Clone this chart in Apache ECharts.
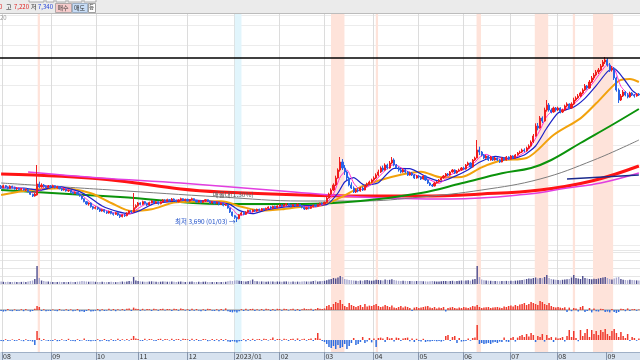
<!DOCTYPE html>
<html><head><meta charset="utf-8">
<script src="https://cdn.jsdelivr.net/npm/echarts@6/dist/echarts.min.js"></script>
<style>html,body{margin:0;padding:0;background:#fff;}#c{width:640px;height:360px;}</style>
</head><body><div id="c"></div>
<script>
// ---- months / categories ----
const monthKeys = ['2022-08','2022-09','2022-10','2022-11','2022-12','2023-01','2023-02','2023-03','2023-04','2023-05','2023-06','2023-07','2023-08','2023-09'];
const monthLabels = ['08','09','10','11','12','2023/01','02','03','04','05','06','07','08','09'];
const monthDays = [22,20,19,22,21,20,20,22,20,20,21,21,22,15];

// ---- daily candles [open, close, low, high] ----
const c2208 = [[4760,4720,4680,4800],[4720,4780,4700,4810],[4780,4740,4710,4800],[4740,4700,4660,4760],[4700,4760,4690,4790],[4760,4730,4700,4780],[4730,4680,4660,4750],[4680,4700,4650,4730],[4700,4660,4640,4720],[4660,4690,4640,4710],[4690,4650,4630,4700],[4650,4670,4620,4690],[4670,4600,4580,4680],[4600,4520,4500,4610],[4520,4470,4440,4540],[4470,4530,4450,4560],[4500,4830,4480,5400],[4830,4740,4700,4900],[4740,4800,4720,4850],[4800,4760,4730,4830],[4760,4720,4690,4790],[4720,4770,4700,4800]];
const c2209 = [[4770,4740,4700,4800],[4740,4780,4720,4810],[4780,4720,4700,4790],[4720,4750,4690,4770],[4750,4690,4670,4760],[4690,4650,4620,4710],[4650,4680,4630,4700],[4680,4620,4600,4690],[4620,4640,4590,4660],[4640,4580,4560,4650],[4580,4550,4520,4600],[4550,4580,4530,4600],[4580,4520,4500,4590],[4520,4470,4450,4540],[4470,4390,4360,4480],[4390,4300,4280,4400],[4300,4230,4200,4320],[4230,4260,4180,4280],[4260,4150,4120,4270],[4150,4100,4060,4170]];
const c2210 = [[4100,4130,4070,4160],[4130,4080,4050,4150],[4080,4020,3990,4100],[4020,4060,4000,4080],[4060,4000,3970,4070],[4000,3960,3930,4020],[3960,4010,3940,4030],[4010,3950,3920,4020],[3950,3920,3880,3970],[3920,3970,3900,3990],[3970,3900,3870,3980],[3900,3850,3810,3920],[3850,3900,3830,3920],[3900,3880,3840,3930],[3880,3960,3860,3980],[3960,4020,3940,4040],[4020,3990,3960,4050],[3990,4120,3980,4560],[4120,4180,4090,4220]];
const c2211 = [[4180,4260,4150,4290],[4260,4220,4190,4280],[4220,4300,4200,4330],[4300,4250,4220,4320],[4250,4200,4170,4270],[4200,4270,4190,4300],[4270,4320,4250,4350],[4320,4260,4240,4340],[4260,4300,4230,4320],[4300,4240,4210,4310],[4240,4290,4220,4310],[4290,4350,4270,4380],[4350,4310,4290,4370],[4310,4360,4290,4390],[4360,4330,4300,4380],[4330,4380,4310,4410],[4380,4340,4310,4400],[4340,4300,4280,4360],[4300,4350,4280,4370],[4350,4390,4330,4420],[4390,4340,4320,4400],[4340,4370,4310,4390]];
const c2212 = [[4370,4320,4300,4390],[4320,4360,4300,4380],[4360,4390,4340,4420],[4390,4340,4320,4400],[4340,4290,4270,4350],[4290,4330,4270,4350],[4330,4280,4250,4340],[4280,4320,4260,4340],[4320,4360,4300,4380],[4360,4310,4290,4370],[4310,4260,4240,4330],[4260,4300,4240,4320],[4300,4250,4220,4310],[4250,4280,4230,4300],[4280,4220,4190,4290],[4220,4250,4200,4270],[4250,4190,4160,4260],[4190,4210,4170,4230],[4210,4110,4090,4220],[4110,3990,3960,4120],[3990,3880,3850,4000]];
const c2301 = [[3880,3830,3780,3900],[3830,3790,3690,3850],[3790,3910,3770,3930],[3910,3960,3890,3990],[3960,3920,3890,3980],[3920,3990,3900,4010],[3990,4040,3970,4060],[4040,4000,3970,4060],[4000,4050,3980,4070],[4050,4020,3990,4070],[4020,4070,4000,4090],[4070,4040,4010,4090],[4040,4090,4020,4110],[4090,4060,4030,4100],[4060,4100,4040,4120],[4100,4140,4080,4160],[4140,4110,4080,4160],[4110,4160,4090,4180],[4160,4120,4100,4180],[4120,4170,4100,4190]];
const c2302 = [[4170,4200,4150,4220],[4200,4160,4140,4220],[4160,4200,4140,4230],[4200,4240,4180,4260],[4240,4190,4170,4250],[4190,4160,4130,4210],[4160,4210,4140,4230],[4210,4180,4150,4230],[4180,4220,4160,4250],[4220,4170,4140,4230],[4170,4130,4100,4190],[4130,4080,4050,4150],[4080,4120,4060,4140],[4120,4100,4070,4150],[4100,4150,4080,4170],[4150,4190,4130,4210],[4190,4160,4140,4220],[4160,4210,4150,4240],[4210,4250,4190,4270],[4250,4230,4200,4280]];
const c2303 = [[4230,4280,4210,4300],[4280,4410,4270,4450],[4410,4530,4390,4570],[4530,4650,4500,4700],[4650,4800,4620,4850],[4800,5010,4770,5080],[5010,5250,4990,5300],[5250,5490,5200,5640],[5490,5310,5250,5580],[5310,5190,5100,5400],[5190,5010,4950,5230],[5010,4800,4760,5050],[4800,4710,4680,4880],[4710,4590,4560,4760],[4590,4650,4560,4700],[4650,4620,4580,4700],[4620,4710,4600,4740],[4710,4650,4620,4760],[4650,4770,4640,4800],[4770,4830,4740,4870],[4830,4890,4800,4930],[4890,4950,4860,4990]];
const c2304 = [[4950,5010,4920,5060],[5010,5100,4980,5150],[5100,5190,5060,5260],[5190,5310,5160,5360],[5310,5250,5200,5380],[5250,5400,5230,5450],[5400,5310,5270,5440],[5310,5460,5290,5520],[5460,5550,5420,5640],[5550,5400,5360,5600],[5400,5310,5280,5430],[5310,5250,5200,5350],[5250,5190,5150,5290],[5190,5250,5170,5300],[5250,5190,5150,5280],[5190,5100,5070,5220],[5100,5160,5080,5200],[5160,5100,5070,5190],[5100,5010,4980,5130],[5010,5070,4990,5100]];
const c2305 = [[5070,5040,5000,5100],[5040,4980,4950,5060],[4980,5070,4960,5100],[5070,4950,4920,5080],[4950,4860,4830,4970],[4860,4800,4770,4880],[4800,4770,4740,4830],[4770,4860,4760,4890],[4860,4890,4840,4920],[4890,4950,4870,4980],[4950,5010,4930,5040],[5010,5070,4990,5100],[5070,5130,5040,5160],[5130,5100,5070,5160],[5100,5190,5080,5220],[5190,5250,5170,5280],[5250,5160,5130,5270],[5160,5220,5140,5250],[5220,5250,5200,5290],[5250,5310,5230,5340]];
const c2306 = [[5310,5280,5250,5350],[5280,5400,5260,5430],[5400,5460,5370,5500],[5460,5340,5310,5480],[5340,5550,5330,5580],[5550,5610,5520,5650],[5610,5850,5600,6150],[5850,5790,5700,5950],[5790,5700,5660,5820],[5700,5610,5580,5730],[5610,5670,5590,5700],[5670,5550,5520,5690],[5550,5640,5530,5670],[5640,5550,5520,5660],[5550,5610,5530,5640],[5610,5550,5520,5630],[5550,5490,5460,5580],[5490,5610,5480,5640],[5610,5550,5520,5630],[5550,5640,5530,5670],[5640,5580,5550,5660]];
const c2307 = [[5580,5670,5560,5700],[5670,5610,5580,5690],[5610,5700,5590,5730],[5700,5760,5680,5790],[5760,5790,5730,5830],[5790,5850,5760,5890],[5850,5820,5790,5900],[5820,5910,5800,5950],[5910,5970,5880,6020],[5970,6090,5950,6140],[6090,6270,6060,6330],[6270,6570,6250,6650],[6570,6510,6440,6660],[6510,6810,6490,6870],[6810,6720,6660,6860],[6720,7050,6700,7120],[7050,7200,7000,7350],[7200,7050,7000,7260],[7050,6990,6950,7100],[6990,7110,6970,7150],[7110,7050,7000,7140]];
const c2308 = [[7050,7110,7020,7150],[7110,6990,6950,7130],[6990,7050,6960,7090],[7050,7170,7030,7210],[7170,7230,7130,7280],[7230,7110,7080,7250],[7110,7230,7090,7280],[7230,7350,7200,7420],[7350,7410,7310,7460],[7410,7470,7380,7530],[7470,7560,7440,7600],[7560,7650,7520,7700],[7650,7770,7620,7830],[7770,7710,7660,7800],[7710,7890,7690,7950],[7890,8010,7860,8070],[8010,8100,7950,8160],[8100,8190,8060,8250],[8190,8250,8130,8310],[8250,8370,8220,8430],[8370,8490,8340,8550],[8490,8550,8430,8640]];
const c2309 = [[8550,8400,8350,8610],[8400,8250,8190,8460],[8250,8310,8200,8370],[8310,8010,7950,8340],[8010,7650,7600,8050],[7650,7350,7260,7700],[7350,7470,7320,7530],[7470,7590,7440,7650],[7590,7500,7460,7620],[7500,7440,7400,7560],[7440,7560,7420,7600],[7560,7500,7470,7590],[7500,7470,7420,7530],[7470,7530,7450,7560],[7530,7500,7470,7560]];

// ---- volume ----
const volume = [
 250,220,200,230,210,200,220,190,200,210,230,200,260,300,350,500,1800,600,350,300,260,240,
 220,200,210,190,220,200,210,190,200,220,210,200,230,260,300,280,250,230,260,240,
 220,200,210,230,200,190,210,220,200,190,210,230,250,220,240,300,260,700,350,
 300,260,240,220,230,250,270,240,220,210,230,260,240,220,230,250,220,210,230,240,220,210,
 220,230,250,210,200,220,210,230,240,200,210,190,200,210,190,200,210,220,280,320,300,
 350,380,320,300,280,260,300,350,450,300,280,250,260,240,230,250,260,240,230,250,
 240,230,250,260,240,230,250,220,240,230,260,280,250,240,260,300,350,260,280,300,
 320,380,450,500,600,550,650,800,700,500,450,400,380,350,330,300,350,320,380,400,350,330,
 350,420,400,380,360,450,400,420,480,400,350,320,300,330,310,300,290,300,280,300,
 290,300,280,270,260,280,300,270,250,260,280,300,290,270,300,320,280,300,320,350,
 320,350,380,330,450,500,1800,700,450,380,350,330,320,300,310,290,280,300,290,310,300,
 320,300,330,350,380,400,450,500,550,520,600,650,550,600,580,700,900,600,500,450,420,
 400,380,420,450,480,500,650,900,600,550,500,800,600,550,500,480,520,500,550,600,650,700,
 600,500,450,550,650,700,500,420,400,380,420,400,380,360,350];

// ---- indicator panel 1 ----
const ind1 = [
 -5,-8,-6,5,-4,-6,3,-5,-4,4,-6,5,-3,-8,-5,6,20,15,-5,4,-6,-4,
 -5,3,-4,-6,5,-3,-4,4,-5,3,-6,-4,5,-8,-6,-10,-5,4,-8,-6,
 -4,5,-6,4,-5,-3,6,-4,5,-6,4,-3,5,-4,6,8,-5,12,6,
 5,-4,6,-3,5,4,-5,6,4,-4,5,6,-3,5,4,-5,6,5,-4,8,5,-3,
 4,-5,6,-4,5,-3,-6,4,-5,6,5,-4,-5,4,-6,5,-4,8,-6,-10,-12,
 -8,-12,-6,4,-5,6,-4,5,6,-5,4,-3,5,-4,6,4,-5,5,-4,6,
 5,-4,6,5,-3,4,6,-4,5,-5,4,8,5,4,6,-4,5,10,6,5,
 8,20,25,15,30,40,35,50,30,20,15,35,25,20,15,20,25,15,30,18,22,20,
 25,30,20,15,18,25,20,15,22,12,10,15,20,12,18,15,10,-5,12,15,
 10,12,15,18,20,12,10,15,8,12,10,15,-8,10,12,15,10,8,12,10,
 15,12,10,14,20,18,25,15,10,12,14,15,10,12,14,15,12,10,18,15,20,
 22,18,25,20,28,30,35,25,30,40,35,30,25,45,40,30,25,35,20,15,12,
 15,12,10,14,-10,12,-6,10,8,-8,15,20,-10,-5,10,-12,8,-6,-8,6,5,-10,
 -8,-12,5,-10,-15,-10,6,5,-6,8,-5,4,5,-4,3];

// ---- indicator panel 2 ----
const ind2 = [
 -5,-6,4,-5,-4,3,-5,-4,5,-3,-6,4,-5,-4,-8,-25,45,10,-4,5,-3,-5,
 -4,-5,4,-6,-5,4,-3,-5,6,-4,-5,-6,4,-5,-3,8,-4,-5,-6,-4,
 -5,4,-6,-4,5,-5,-6,4,-5,-4,6,-5,4,-3,5,-4,6,20,8,
 5,-4,-5,6,-3,5,4,-4,-5,5,6,-4,5,4,-3,6,-5,4,5,-4,6,5,
 4,-5,6,-4,5,-5,-4,5,4,-6,-4,5,-5,4,-6,5,-5,4,-8,-10,-6,
 -8,-12,-6,-5,4,-6,5,-4,6,-5,4,5,-4,6,5,-3,4,12,-4,5,
 5,-4,6,4,-5,5,6,-4,8,-5,4,6,-4,5,8,-5,10,35,6,-5,
 -10,-20,-35,-40,-30,-45,-25,-40,-35,-20,-45,-30,-15,10,-25,-20,-10,15,-15,-8,10,-12,
 8,-35,10,12,8,-10,15,8,10,-8,12,10,-5,8,10,12,-6,8,-10,6,
 -5,-8,6,-10,-6,-8,-5,-4,-6,-5,-8,-4,20,25,-5,15,20,-15,10,-8,
 -6,-5,8,-4,10,12,75,-20,-15,-20,-18,-15,-20,-12,-10,-15,-8,-10,12,-8,-10,
 10,15,-8,12,20,25,15,30,18,35,25,-10,20,15,30,-8,25,10,15,-10,12,
 8,10,15,-8,20,50,15,45,10,-6,50,20,35,55,15,50,30,45,25,50,40,55,
 30,20,45,55,35,15,40,20,10,30,-5,15,10,-4,8];

// ---- moving-average lines [dayIndex, price] ----
const ma5 = [[0,4740],[5,4740],[10,4680],[14,4580],[17,4620],[20,4770],[25,4750],[30,4660],[35,4540],[38,4380],[41,4210],[45,4080],[50,3970],[55,3900],[58,3950],[60,4050],[65,4250],[70,4280],[75,4330],[80,4350],[85,4360],[90,4310],[95,4300],[100,4230],[103,4080],[106,3880],[110,3960],[115,4040],[120,4100],[125,4160],[130,4200],[135,4160],[140,4140],[145,4280],[148,4530],[151,5040],[154,5250],[157,4860],[160,4660],[165,4820],[170,5170],[175,5420],[180,5240],[185,5090],[190,4980],[195,4850],[200,5100],[205,5240],[210,5410],[213,5630],[216,5720],[220,5600],[225,5570],[230,5660],[235,5870],[240,6450],[243,6860],[247,7080],[250,7060],[255,7220],[260,7570],[264,7900],[267,8180],[270,8410],[273,8300],[276,7760],[280,7510],[284,7510]];
const ma10 = [[0,4710],[10,4710],[17,4640],[25,4760],[35,4600],[40,4400],[45,4170],[52,4000],[57,3940],[62,4040],[68,4240],[75,4300],[85,4350],[95,4300],[102,4210],[106,4040],[112,3940],[118,4050],[125,4130],[135,4180],[145,4210],[150,4560],[153,4890],[157,5020],[162,4790],[168,4870],[175,5300],[182,5290],[190,5030],[196,4910],[202,5060],[208,5260],[213,5480],[220,5660],[227,5590],[233,5700],[238,5970],[243,6510],[248,6960],[255,7140],[260,7400],[265,7780],[270,8200],[273,8290],[277,8010],[281,7640],[284,7490]];
const ma20 = [[0,4500],[13,4650],[27,4700],[40,4550],[49,4260],[58,4020],[67,4070],[78,4280],[98,4310],[107,4150],[116,4030],[125,4070],[134,4150],[142,4180],[151,4420],[160,4735],[169,4950],[178,5110],[187,5200],[196,5030],[205,5040],[214,5330],[223,5540],[234,5610],[246,6300],[258,6800],[265,7250],[275,7920],[280,7980],[284,7890]];
const ma60 = [[0,4650],[53,4440],[98,4230],[134,4230],[160,4320],[187,4560],[205,4850],[223,5150],[236,5310],[245,5550],[258,6060],[272,6600],[284,7080]];
const ma120 = [[0,4860],[49,4650],[98,4440],[134,4320],[160,4320],[187,4440],[214,4650],[240,4980],[264,5550],[284,6150]];
const ma240 = [[0,5130],[27,5060],[53,4920],[80,4680],[98,4590],[134,4500],[160,4470],[187,4470],[214,4530],[240,4650],[263,4920],[284,5370]];
const ma480 = [[12,5190],[44,5010],[80,4860],[125,4620],[160,4440],[200,4380],[235,4530],[252,4710],[267,4860],[284,5160]];

// ---- highlighted day ranges [fromIndex, toIndex] ----
const redBands = [[16,16],[147,152],[167,167],[212,213],[238,243],[255,255],[264,272]];
const blueBands = [[104,106]];

// ---- levels / notes ----
const resistanceLevel = 8610;
const trendSeg = [[252,4980],[284,5100]];
const lowPoint = [105,3690];
const lowText = '최저 3,690 (01/03) →';
const zoneText = '매물대(1.30%)';
const zonePoint = [94,4500];
const headerTexts = [['0','#e02020'],['고','#222'],['7,220','#e02020'],['저','#222'],['7,340','#1f3fd8']];

// ---- build ----
const candles = [].concat(c2208,c2209,c2210,c2211,c2212,c2301,c2302,c2303,c2304,c2305,c2306,c2307,c2308,c2309);
const categories = [], monthStart = {};
monthKeys.forEach((k, m) => {
  for (let d = 0; d < monthDays[m]; d++) {
    if (d === 0) monthStart[categories.length] = monthLabels[m];
    categories.push(k + '-' + (d + 1));
  }
});
const isStart = (i) => Object.prototype.hasOwnProperty.call(monthStart, i);
const UP = '#f01e1e', DOWN = '#2a64e6';
const FONT = '"Noto Sans CJK KR", "Noto Sans", sans-serif';

function xAx(gridIndex, extra) {
  return Object.assign({
    type: 'category', data: categories, gridIndex, boundaryGap: true,
    axisLine: { show: false }, axisTick: { show: false }, axisLabel: { show: false },
    splitLine: { show: false }
  }, extra || {});
}
function bandSeries(data, color) {
  return {
    type: 'custom', xAxisIndex: 0, yAxisIndex: 0, data, silent: true, z: 0,
    renderItem(params, api) {
      const a = api.coord([api.value(0), 0]);
      const b = api.coord([api.value(1), 0]);
      const w = api.size([1, 0])[0];
      const cs = params.coordSys;
      return { type: 'rect', shape: { x: a[0] - w / 2, y: cs.y, width: b[0] - a[0] + w, height: cs.height }, style: { fill: color } };
    }
  };
}
function maLine(data, color, width, smooth) {
  return { type: 'line', xAxisIndex: 1, yAxisIndex: 1, data, showSymbol: false, smooth, silent: true,
    lineStyle: { color, width }, z: 3 };
}

const headerX = [-1, 6, 14, 31, 38];
const headerEls = headerTexts.map((t, i) => ({ type: 'text', x: headerX[i], y: 4, z: 101,
  style: { text: t[0], fill: t[1], font: '6px ' + FONT } }));

const option = {
  animation: false,
  backgroundColor: '#ffffff',
  textStyle: { fontFamily: FONT },
  grid: [
    { left: 0, right: 0, top: 14, bottom: 8 },
    { left: 0, right: 0, top: 15, height: 230 },
    { left: 0, right: 0, top: 250, height: 34 },
    { left: 0, right: 0, top: 288, height: 30 },
    { left: 0, right: 0, top: 320, height: 32 }
  ],
  xAxis: [
    xAx(0, {
      position: 'bottom',
      axisLine: { show: true, lineStyle: { color: '#9fb0c6', width: 1 } },
      axisTick: { show: true, inside: false, length: 8, interval: (i) => isStart(i), lineStyle: { color: '#8796ad' } },
      axisLabel: { show: true, interval: (i) => isStart(i), formatter: (v, i) => monthStart[i] || '',
        align: 'left', margin: 1, fontSize: 7, color: '#333', fontFamily: FONT, hideOverlap: false },
      splitLine: { show: true, interval: (i) => isStart(i), lineStyle: { color: '#dcdcdc', width: 1 } }
    }),
    xAx(1), xAx(2),
    xAx(3, { axisLine: { show: true, lineStyle: { color: '#b3b3b3', width: 1.5 } } }),
    xAx(4)
  ],
  yAxis: [
    { type: 'value', gridIndex: 0, min: 0, max: 1, show: false },
    { type: 'value', gridIndex: 1, position: 'right', min: 3000, max: 9900, interval: 600,
      axisLabel: { show: false }, axisLine: { show: false }, axisTick: { show: false },
      splitLine: { show: true, lineStyle: { color: '#ececec' } } },
    { type: 'value', gridIndex: 2, position: 'right', min: 0, max: 3400, interval: 800,
      axisLabel: { show: false }, axisLine: { show: false }, axisTick: { show: false },
      splitLine: { show: true, lineStyle: { color: '#e6e6e6' } } },
    { type: 'value', gridIndex: 3, min: -40, max: 110, show: false },
    { type: 'value', gridIndex: 4, min: -60, max: 100, show: false }
  ],
  graphic: [
    { type: 'rect', shape: { x: 0, y: 352, width: 640, height: 8 }, style: { fill: '#d7e2ef' }, z: -1, silent: true },
    { type: 'rect', shape: { x: 0, y: 0, width: 640, height: 13 }, style: { fill: '#ebebeb' }, z: 100, silent: true },
    { type: 'line', shape: { x1: 0, y1: 13.5, x2: 640, y2: 13.5 }, style: { stroke: '#bcbcbc', lineWidth: 1 }, z: 100 },
    { type: 'rect', shape: { x: 29, y: -5, width: 15, height: 7 }, style: { fill: '#f7f7f7', stroke: '#9a9a9a', lineWidth: 0.8 }, z: 101 },
    { type: 'rect', shape: { x: 46, y: -5, width: 8, height: 7 }, style: { fill: '#f7f7f7', stroke: '#9a9a9a', lineWidth: 0.8 }, z: 101 },
    { type: 'rect', shape: { x: 56, y: -5, width: 10, height: 7 }, style: { fill: '#f7f7f7', stroke: '#9a9a9a', lineWidth: 0.8 }, z: 101 },
    { type: 'rect', shape: { x: 68, y: -5, width: 14, height: 7 }, style: { fill: '#f7f7f7', stroke: '#9a9a9a', lineWidth: 0.8 }, z: 101 },
    { type: 'rect', shape: { x: 84, y: -5, width: 12, height: 7 }, style: { fill: '#f7f7f7', stroke: '#9a9a9a', lineWidth: 0.8 }, z: 101 },
    ...headerEls,
    { type: 'rect', shape: { x: 55.5, y: 3.5, width: 16, height: 9 }, style: { fill: '#f6cbcb', stroke: '#a09a9a', lineWidth: 0.8 }, z: 101 },
    { type: 'text', x: 57.5, y: 4.5, z: 102, style: { text: '매수', fill: '#333', font: '6px ' + FONT } },
    { type: 'rect', shape: { x: 72.5, y: 3.5, width: 15, height: 9 }, style: { fill: '#c7dcf5', stroke: '#8fa2bb', lineWidth: 0.8 }, z: 101 },
    { type: 'text', x: 74, y: 4.5, z: 102, style: { text: '매도', fill: '#333', font: '6px ' + FONT } },
    { type: 'rect', shape: { x: 88.5, y: 3.5, width: 7, height: 9 }, style: { fill: '#ffffff', stroke: '#8a8a8a', lineWidth: 0.8 }, z: 101 },
    { type: 'text', x: 89, y: 4.5, z: 102, style: { text: '등', fill: '#333', font: '5.5px ' + FONT } },
    { type: 'text', x: 0, y: 14.5, z: 102, style: { text: '20', fill: '#9a9a9a', font: '6px ' + FONT } }
  ],
  series: [
    bandSeries(redBands, '#fee3da'),
    bandSeries(blueBands, '#e1f5fc'),
    maLine(ma240, '#ff1414', 3, 0.4),
    maLine(ma480, '#e23ee0', 1.5, 0.4),
    maLine(ma120, '#7c7c7c', 1, 0.4),
    maLine(ma60, '#0b930b', 2, 0.4),
    maLine(ma20, '#f2a20c', 2, 0.3),
    {
      type: 'candlestick', xAxisIndex: 1, yAxisIndex: 1, data: candles, barWidth: 1.6, z: 4,
      itemStyle: { color: UP, color0: DOWN, borderColor: UP, borderColor0: DOWN, borderWidth: 1 },
      markLine: {
        silent: true, symbol: ['none', 'none'], label: { show: false },
        lineStyle: { color: '#000000', width: 1.5, type: 'solid' },
        data: [
          { yAxis: resistanceLevel },
          [{ coord: trendSeg[0], lineStyle: { color: '#1b2a8c', width: 1.3, type: 'solid' } }, { coord: trendSeg[1] }]
        ]
      },
      markPoint: {
        silent: true, symbol: 'circle', symbolSize: 1, itemStyle: { color: 'rgba(0,0,0,0)' },
        data: [
          { coord: lowPoint, label: { show: true, position: 'left', distance: 1, formatter: lowText, color: '#1e4fc8', fontSize: 6.5, fontFamily: FONT } },
          { coord: zonePoint, label: { show: true, position: 'right', distance: 0, formatter: zoneText, color: '#5a5a5a', fontSize: 6.5, fontFamily: FONT } }
        ]
      }
    },
    maLine(ma10, '#1c22c8', 1.2, 0.2),
    maLine(ma5, '#ff2ccf', 1, 0.2),
    {
      type: 'bar', xAxisIndex: 2, yAxisIndex: 2, data: volume, barWidth: 1.4, silent: true, z: 3,
      itemStyle: { color: (p) => candles[p.dataIndex][1] >= candles[p.dataIndex][0] ? '#4c4c8e' : '#a9a9d0' }
    },
    {
      type: 'bar', xAxisIndex: 3, yAxisIndex: 3, data: ind1, barWidth: 1.5, silent: true, z: 3,
      itemStyle: { color: (p) => p.value >= 0 ? '#f0392c' : '#2f6de0' }
    },
    {
      type: 'bar', xAxisIndex: 4, yAxisIndex: 4, data: ind2, barWidth: 1.5, silent: true, z: 3,
      itemStyle: { color: (p) => p.value >= 0 ? '#f0392c' : '#2f6de0' }
    }
  ]
};
const chart = echarts.init(document.getElementById('c'), null, { renderer: 'canvas' });
chart.setOption(option);
</script>
</body></html>
